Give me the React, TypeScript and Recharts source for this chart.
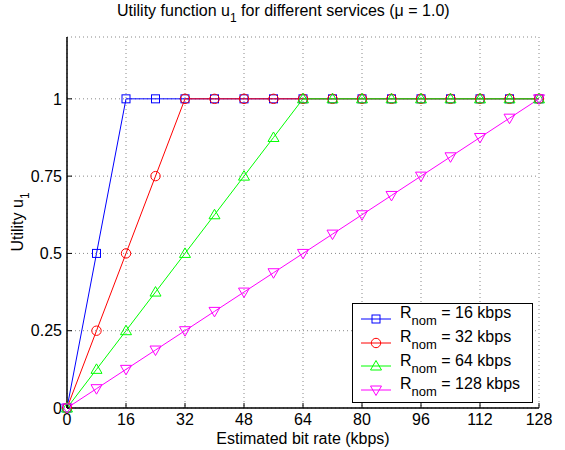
import type { ReactElement } from "react";
import { LineChart, Line, XAxis, YAxis, CartesianGrid } from "recharts";

// bit rate samples (kbps)
const rates = [0, 8, 16, 24, 32, 40, 48, 56, 64, 72, 80, 88, 96, 104, 112, 120, 128];

// utility values for each nominal rate
const u16 = [0, 0.5, 1, 1, 1, 1, 1, 1, 1, 1, 1, 1, 1, 1, 1, 1, 1];
const u32 = [0, 0.25, 0.5, 0.75, 1, 1, 1, 1, 1, 1, 1, 1, 1, 1, 1, 1, 1];
const u64 = [0, 0.125, 0.25, 0.375, 0.5, 0.625, 0.75, 0.875, 1, 1, 1, 1, 1, 1, 1, 1, 1];
const u128 = [0, 0.0625, 0.125, 0.1875, 0.25, 0.3125, 0.375, 0.4375, 0.5, 0.5625, 0.625, 0.6875, 0.75, 0.8125, 0.875, 0.9375, 1];

const xTicks = [0, 16, 32, 48, 64, 80, 96, 112, 128];
const yTicks = [0, 0.25, 0.5, 0.75, 1];

const seriesNames = ["16 kbps", "32 kbps", "64 kbps", "128 kbps"];
const seriesKeys = ["u16", "u32", "u64", "u128"];
const colors = ["#0000ff", "#ff0000", "#00ff00", "#ff00ff"];
const markers = ["square", "circle", "triangleUp", "triangleDown"];

const data = rates.map((r, i) => ({ rate: r, u16: u16[i], u32: u32[i], u64: u64[i], u128: u128[i] }));

const FONT = "'Liberation Sans', Arial, Helvetica, sans-serif";
const FS = 16;

function Marker({ kind, cx, cy, color }: { kind: string; cx: number; cy: number; color: string }): ReactElement {
  if (kind === "square") {
    return <rect x={cx - 4} y={cy - 4} width={8} height={8} fill="none" stroke={color} strokeWidth={1} />;
  }
  if (kind === "circle") {
    return <circle cx={cx} cy={cy} r={4.7} fill="none" stroke={color} strokeWidth={1} />;
  }
  if (kind === "triangleUp") {
    return <polygon points={`${cx},${cy - 5.5} ${cx - 5.5},${cy + 4} ${cx + 5.5},${cy + 4}`} fill="none" stroke={color} strokeWidth={1} />;
  }
  return <polygon points={`${cx},${cy + 5.5} ${cx - 5.5},${cy - 4} ${cx + 5.5},${cy - 4}`} fill="none" stroke={color} strokeWidth={1} />;
}

function makeDot(kind: string, color: string) {
  return (props: any) => {
    const { cx, cy, index } = props;
    if (cx == null || cy == null) return <g key={index} />;
    return <Marker key={index} kind={kind} cx={cx} cy={cy} color={color} />;
  };
}

// legend drawn as an overlay, so it doesn't take space from the plot
function LegendBox(): ReactElement {
  return (
    <div
      style={{
        position: "absolute",
        left: 352,
        top: 303,
        border: "1.5px solid #000",
        background: "#fff",
        width: 181,
        height: 100,
        boxSizing: "border-box",
        padding: "3px 0 0 8px",
        fontFamily: FONT,
        fontSize: FS,
        color: "#000",
      }}
    >
      {seriesNames.map((name, i) => (
        <div key={name} style={{ display: "flex", alignItems: "center", height: 23.8 }}>
          <svg width={30} height={16} style={{ marginRight: 9, flex: "none" }}>
            <line x1={0} y1={8} x2={30} y2={8} stroke={colors[i]} strokeWidth={1} />
            <Marker kind={markers[i]} cx={15} cy={8} color={colors[i]} />
          </svg>
          <span style={{ whiteSpace: "nowrap", position: "relative", top: -3 }}>
            R<sub style={{ fontSize: 13, verticalAlign: -7 }}>nom</sub> = {name}
          </span>
        </div>
      ))}
    </div>
  );
}

export default function App(): ReactElement {
  const tickStyle = { fill: "#000", fontSize: FS, fontFamily: FONT };
  return (
    <div style={{ position: "absolute", left: 0, top: 0, width: 565, height: 450, background: "#fff", fontFamily: FONT }}>
      <LineChart width={565} height={450} data={data} margin={{ top: 37, right: 26, left: 0, bottom: 0 }}>
        <CartesianGrid stroke="#888" strokeDasharray="1 3" strokeWidth={1} />
        <XAxis
          dataKey="rate"
          type="number"
          domain={[0, 128]}
          ticks={xTicks}
          height={42}
          tickSize={-5}
          tickMargin={11}
          tick={tickStyle}
          axisLine={{ stroke: "#000", strokeWidth: 1.5 }}
          tickLine={{ stroke: "#000" }}
          interval={0}
        />
        <XAxis
          xAxisId="top"
          orientation="top"
          dataKey="rate"
          type="number"
          domain={[0, 128]}
          ticks={xTicks}
          height={0}
          tickSize={-5}
          tick={false}
          axisLine={{ stroke: "#000", strokeWidth: 1.5 }}
          tickLine={{ stroke: "#000" }}
          interval={0}
        />
        <YAxis
          type="number"
          domain={[0, 1.2]}
          ticks={yTicks}
          width={67}
          tickSize={-5}
          tickMargin={10}
          tick={tickStyle}
          axisLine={{ stroke: "#000", strokeWidth: 1.5 }}
          tickLine={{ stroke: "#000" }}
          interval={0}
        />
        <YAxis
          yAxisId="right"
          orientation="right"
          type="number"
          domain={[0, 1.2]}
          ticks={yTicks}
          width={0}
          tickSize={-5}
          tick={false}
          axisLine={{ stroke: "#000", strokeWidth: 1.5 }}
          tickLine={{ stroke: "#000" }}
          interval={0}
        />
        {seriesKeys.map((k, i) => (
          <Line
            key={k}
            dataKey={k}
            type="linear"
            stroke={colors[i]}
            strokeWidth={1}
            dot={makeDot(markers[i], colors[i])}
            activeDot={false}
            isAnimationActive={false}
          />
        ))}
      </LineChart>
      <LegendBox />
      <div
        style={{
          position: "absolute",
          left: 117,
          top: 2,
          fontSize: FS,
          color: "#000",
          whiteSpace: "nowrap",
        }}
      >
        Utility function u<sub style={{ fontSize: 12, verticalAlign: -6 }}>1</sub> for different services (μ = 1.0)
      </div>
      <div
        style={{
          position: "absolute",
          left: 67,
          width: 472,
          top: 430,
          textAlign: "center",
          fontSize: FS,
          color: "#000",
          whiteSpace: "nowrap",
        }}
      >
        Estimated bit rate (kbps)
      </div>
      <div
        style={{
          position: "absolute",
          left: 20,
          top: 222,
          transform: "translate(-50%, -50%) rotate(-90deg)",
          fontSize: FS,
          color: "#000",
          whiteSpace: "nowrap",
        }}
      >
        Utility u<sub style={{ fontSize: 12, verticalAlign: -6 }}>1</sub>
      </div>
    </div>
  );
}
